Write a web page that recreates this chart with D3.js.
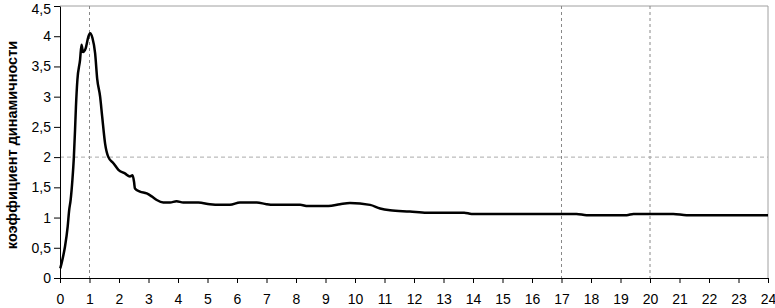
<!DOCTYPE html>
<html>
<head>
<meta charset="utf-8">
<script src="https://cdn.jsdelivr.net/npm/d3@7"></script>
<style>
  body { margin: 0; background: #fff; }
  svg { display: block; font-family: "Liberation Sans", Arial, sans-serif; }
  .axis path, .axis line { stroke: #000; }
  .axis text { font-size: 14px; fill: #000; }
</style>
</head>
<body>
<div id="chart"></div>
<script>
// время, с
var tValues = [0.01, 0.08, 0.17, 0.26, 0.31, 0.36, 0.42, 0.47, 0.51, 0.54, 0.59, 0.68, 0.73, 0.78, 0.87, 0.96, 1.02, 1.10, 1.19, 1.26, 1.36, 1.43, 1.53, 1.64, 1.81, 1.98, 2.20, 2.37, 2.46, 2.51, 2.54, 2.71, 2.94, 3.11, 3.28, 3.50, 3.73, 3.95, 4.18, 4.69, 5.08, 5.42, 5.76, 6.10, 6.67, 7.00, 7.23, 8.14, 8.40, 9.10, 9.49, 9.83, 10.51, 10.85, 11.19, 11.86, 12.43, 13.70, 13.95, 16.60, 17.51, 17.85, 19.21, 19.44, 20.79, 21.24, 24]
// коэффициент динамичности
var kValues = [0.16, 0.30, 0.52, 0.85, 1.12, 1.29, 1.62, 2.00, 2.45, 2.83, 3.28, 3.61, 3.86, 3.74, 3.80, 3.99, 4.05, 3.97, 3.72, 3.30, 3.00, 2.67, 2.22, 2.00, 1.90, 1.79, 1.73, 1.68, 1.70, 1.59, 1.48, 1.43, 1.40, 1.35, 1.29, 1.25, 1.25, 1.27, 1.25, 1.25, 1.22, 1.21, 1.21, 1.25, 1.25, 1.22, 1.21, 1.21, 1.19, 1.19, 1.22, 1.24, 1.21, 1.15, 1.12, 1.10, 1.08, 1.08, 1.06, 1.06, 1.06, 1.04, 1.04, 1.06, 1.06, 1.04, 1.04]

var xTicks = d3.range(0, 25)
var yTicks = [0, 0.5, 1, 1.5, 2, 2.5, 3, 3.5, 4, 4.5]
var xRefLines = [1, 17, 20]
var yRefLines = [2]
var yTitle = 'коэффициент динамичности'

var W = 775, H = 308
var margin = {top: 6, right: 7, bottom: 30, left: 60},
    width = W - margin.left - margin.right,
    height = H - margin.top - margin.bottom

var x = d3.scaleLinear().domain([0, 24]).range([0, width]),
    y = d3.scaleLinear().domain([0, 4.5]).range([height, 0])

var fmt = d => String(d).replace('.', ',')

var svg = d3.select('#chart').append('svg')
  .attr('width', W)
  .attr('height', H)

var g = svg.append('g')
  .attr('transform', `translate(${[margin.left, margin.top]})`)

// рамка области построения
g.append('line')
  .attr('x1', 0).attr('x2', width).attr('y1', 0).attr('y2', 0)
  .attr('stroke', '#a0a0a0')
g.append('line')
  .attr('x1', width).attr('x2', width).attr('y1', 0).attr('y2', height)
  .attr('stroke', '#a0a0a0')

g.selectAll('.vref').data(xRefLines).enter().append('line')
  .attr('class', 'vref')
  .attr('x1', d => x(d)).attr('x2', d => x(d))
  .attr('y1', 0).attr('y2', height)
  .attr('stroke', '#888').attr('stroke-dasharray', '3,3')

g.selectAll('.href').data(yRefLines).enter().append('line')
  .attr('class', 'href')
  .attr('x1', 0).attr('x2', width)
  .attr('y1', d => y(d)).attr('y2', d => y(d))
  .attr('stroke', '#aaa').attr('stroke-dasharray', '4,3')

g.append('g')
  .attr('class', 'axis axis--x')
  .attr('transform', `translate(0,${height})`)
  .call(d3.axisBottom(x).tickValues(xTicks).tickFormat(fmt).tickSize(5).tickSizeOuter(0).tickPadding(11))

g.append('g')
  .attr('class', 'axis axis--y')
  .call(d3.axisLeft(y).tickValues(yTicks).tickFormat(fmt).tickSize(6).tickSizeOuter(0).tickPadding(3))
  .selectAll('.tick text')
    .filter(d => d === 4.5)
    .attr('dy', '0.5em') // keep the top label inside the frame

var data = tValues.map((t, i) => ({t: t, k: kValues[i]}))

g.append('path')
  .datum(data)
  .attr('fill', 'none')
  .attr('stroke', '#000')
  .attr('stroke-width', 2.5)
  .attr('stroke-linejoin', 'round')
  .attr('d', d3.line().x(d => x(d.t)).y(d => y(d.k)).curve(d3.curveMonotoneX))

svg.append('text')
  .attr('transform', 'translate(17,145) rotate(-90)')
  .attr('text-anchor', 'middle')
  .attr('font-size', 14.5)
  .attr('font-weight', 'bold')
  .text(yTitle)
</script>
</body>
</html>
